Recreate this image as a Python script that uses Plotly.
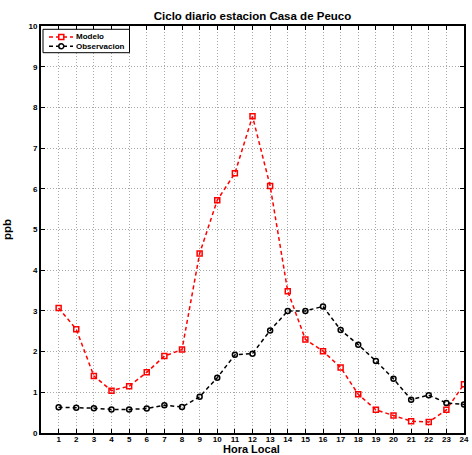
import plotly.graph_objects as go

hours = list(range(1, 25))
modelo = [3.07, 2.55, 1.40, 1.04, 1.15, 1.49, 1.89, 2.05, 4.41, 5.72, 6.38, 7.78,
          6.07, 3.48, 2.30, 2.01, 1.61, 0.95, 0.57, 0.43, 0.29, 0.27, 0.57, 1.20]
observacion = [0.63, 0.62, 0.61, 0.58, 0.58, 0.60, 0.68, 0.64, 0.89, 1.36, 1.92, 1.95,
               2.52, 3.00, 3.00, 3.11, 2.53, 2.17, 1.77, 1.33, 0.82, 0.93, 0.74, 0.70]
y_ticks = list(range(0, 11))
series_names = ["Modelo", "Observacion"]
series_colors = ["#ff0000", "#000000"]

FONT = "Liberation Sans"
W, H = 472, 455
ML, MR, MT, MB = 41, 8, 26, 22
PW, PH = W - ML - MR, H - MT - MB


def px_x(p):
    return (p - ML) / PW


def px_y(p):
    return (H - MB - p) / PH


fig = go.Figure()
fig.add_trace(go.Scatter(
    x=hours, y=modelo, name=series_names[0], mode="lines+markers",
    line=dict(color=series_colors[0], width=1.5, dash="4px,3px"),
    marker=dict(symbol="square-open", size=5, color=series_colors[0], line=dict(width=1.5)),
))
fig.add_trace(go.Scatter(
    x=hours, y=observacion, name=series_names[1], mode="lines+markers",
    line=dict(color=series_colors[1], width=1.5, dash="4px,3px"),
    marker=dict(symbol="circle-open", size=5, color=series_colors[1], line=dict(width=1.5)),
))

axis_common = dict(
    showline=True, linecolor="black", linewidth=2, mirror="ticks",
    ticks="inside", ticklen=4, tickcolor="black", tickwidth=1,
    showgrid=True, gridcolor="#a8a8a8", griddash="1px,2px", gridwidth=1,
    zeroline=False, automargin=False,
    tickfont=dict(family=FONT, size=8, color="black", weight="bold"),
)

# manual compact legend (MATLAB style)
shapes = [dict(type="rect", xref="paper", yref="paper",
               x0=px_x(43), x1=px_x(129.5), y0=px_y(52.7), y1=px_y(29.3),
               line=dict(color="black", width=1), fillcolor="white", layer="above")]
annotations = []
entry_y = [37, 46.3]
for name, col, ey, sym in zip(series_names, series_colors, entry_y, ["rect", "circle"]):
    shapes.append(dict(type="line", xref="paper", yref="paper",
                       x0=px_x(49), x1=px_x(73), y0=px_y(ey), y1=px_y(ey),
                       line=dict(color=col, width=1.5, dash="4px,3px"), layer="above"))
    shapes.append(dict(type=sym, xref="paper", yref="paper",
                       xsizemode="pixel", ysizemode="pixel",
                       xanchor=px_x(61.3), yanchor=px_y(ey),
                       x0=-2.5, x1=2.5, y0=-2.5, y1=2.5,
                       line=dict(color=col, width=1.5), fillcolor="white", layer="above"))
    annotations.append(dict(text=name, xref="paper", yref="paper",
                            x=px_x(75), y=px_y(ey), xanchor="left", yanchor="middle",
                            showarrow=False, borderpad=0,
                            font=dict(family=FONT, size=8, color="black", weight="bold")))

# x-axis title placed below the tick labels
annotations.append(dict(text="Hora Local", xref="paper", yref="paper",
                        x=px_x(251.5), y=px_y(449), xanchor="center", yanchor="middle",
                        showarrow=False, borderpad=0,
                        font=dict(family=FONT, size=11, color="black", weight="bold")))

fig.update_layout(
    width=W, height=H,
    margin=dict(l=ML, r=MR, t=MT, b=MB),
    paper_bgcolor="white", plot_bgcolor="white",
    title=dict(text="Ciclo diario estacion Casa de Peuco", x=0.5, xref="paper",
               y=1 - 16 / H, yanchor="middle",
               font=dict(family=FONT, size=11.5, color="black", weight="bold")),
    xaxis=dict(range=[0, 24], tickmode="array", tickvals=hours,
               ticktext=[str(h) for h in hours], ticklabelstandoff=-3,
               **axis_common),
    yaxis=dict(range=[0, 10], tickmode="array", tickvals=y_ticks,
               title=dict(text="ppb", standoff=14,
                          font=dict(family=FONT, size=11.5, color="black", weight="bold")),
               **axis_common),
    shapes=shapes,
    annotations=annotations,
    showlegend=False,
)

fig.write_html("out.html")
